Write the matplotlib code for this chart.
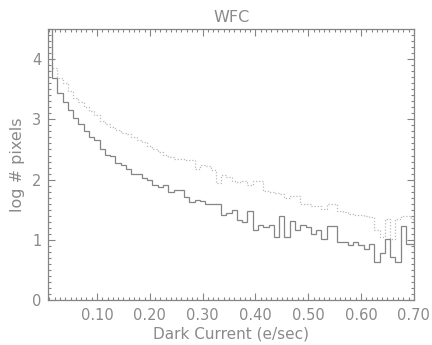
import numpy as np
import matplotlib
matplotlib.use("Agg")
import matplotlib.pyplot as plt
from matplotlib.ticker import MultipleLocator, FormatStrFormatter

# bin centres (e/sec)
bin_centers = [round(0.01 * k, 2) for k in range(1, 71)]

# log # pixels, solid histogram
solid = [4.8,
         3.69, 3.44, 3.29, 3.15, 3.03, 2.93, 2.81, 2.70, 2.65, 2.51,
         2.41, 2.40, 2.27, 2.24, 2.18, 2.10, 2.10, 2.02, 2.00, 1.91,
         1.87, 1.91, 1.79, 1.82, 1.82, 1.71, 1.63, 1.66, 1.64, 1.60,
         1.60, 1.60, 1.42, 1.45, 1.50, 1.33, 1.29, 1.48, 1.16, 1.24,
         1.22, 1.24, 1.05, 1.40, 1.05, 1.32, 1.16, 1.24, 1.21, 1.09,
         1.16, 1.02, 1.23, 1.23, 0.97, 0.96, 0.91, 0.96, 0.91, 0.85,
         0.93, 0.63, 0.79, 1.01, 0.71, 0.63, 1.23, 0.93, 0.93]

# log # pixels, dotted histogram
dotted = [4.8,
          3.86, 3.69, 3.61, 3.47, 3.36, 3.28, 3.20, 3.14, 3.08, 2.98,
          2.92, 2.88, 2.82, 2.78, 2.75, 2.70, 2.66, 2.62, 2.56, 2.50,
          2.46, 2.41, 2.37, 2.35, 2.34, 2.33, 2.32, 2.17, 2.25, 2.22,
          2.16, 1.94, 2.08, 2.05, 1.97, 1.96, 1.98, 1.91, 1.98, 1.98,
          1.81, 1.79, 1.77, 1.76, 1.69, 1.73, 1.73, 1.59, 1.59, 1.57,
          1.56, 1.52, 1.59, 1.59, 1.48, 1.47, 1.43, 1.42, 1.42, 1.40,
          1.38, 1.16, 1.04, 1.34, 1.01, 1.34, 1.39, 1.40, 1.34]

title = "WFC"
xlabel = "Dark Current (e/sec)"
ylabel = "log # pixels"

grey = "#858585"
textgrey = "#8a8a8a"
light = "#b8b8b8"

centers = np.array(bin_centers)
edges = np.concatenate([centers - 0.005, [centers[-1] + 0.005]])

fig = plt.figure(figsize=(4.32, 3.45), dpi=100)
ax = fig.add_axes([0.112, 0.130, 0.846, 0.786])

ax.stairs(dotted, edges, color=light, linewidth=0.9, linestyle=(0, (1, 1.5)), baseline=None)
ax.stairs(solid, edges, color=grey, linewidth=0.9, baseline=None)

ax.set_xlim(0.008, 0.70)
ax.set_ylim(0, 4.5)

ax.xaxis.set_major_locator(MultipleLocator(0.1))
ax.xaxis.set_minor_locator(MultipleLocator(0.01))
ax.xaxis.set_major_formatter(FormatStrFormatter("%.2f"))
ax.yaxis.set_major_locator(MultipleLocator(1))
ax.yaxis.set_minor_locator(MultipleLocator(0.1))
ax.yaxis.set_major_formatter(FormatStrFormatter("%d"))

ax.tick_params(which="both", direction="in", top=True, right=True, color=grey,
               labelcolor=textgrey, labelsize=10.5, width=0.8)
ax.tick_params(which="major", length=5)
ax.tick_params(which="minor", length=2.5)
ax.tick_params(axis="x", pad=6)
ax.tick_params(axis="y", pad=5)

for s in ax.spines.values():
    s.set_color(grey)
    s.set_linewidth(0.9)

ax.set_title(title, color=textgrey, fontsize=11.5, pad=5)
ax.set_xlabel(xlabel, color=textgrey, fontsize=11, labelpad=2)
ax.set_ylabel(ylabel, color=textgrey, fontsize=11.5, labelpad=5)

fig.savefig("out.png", dpi=100)
